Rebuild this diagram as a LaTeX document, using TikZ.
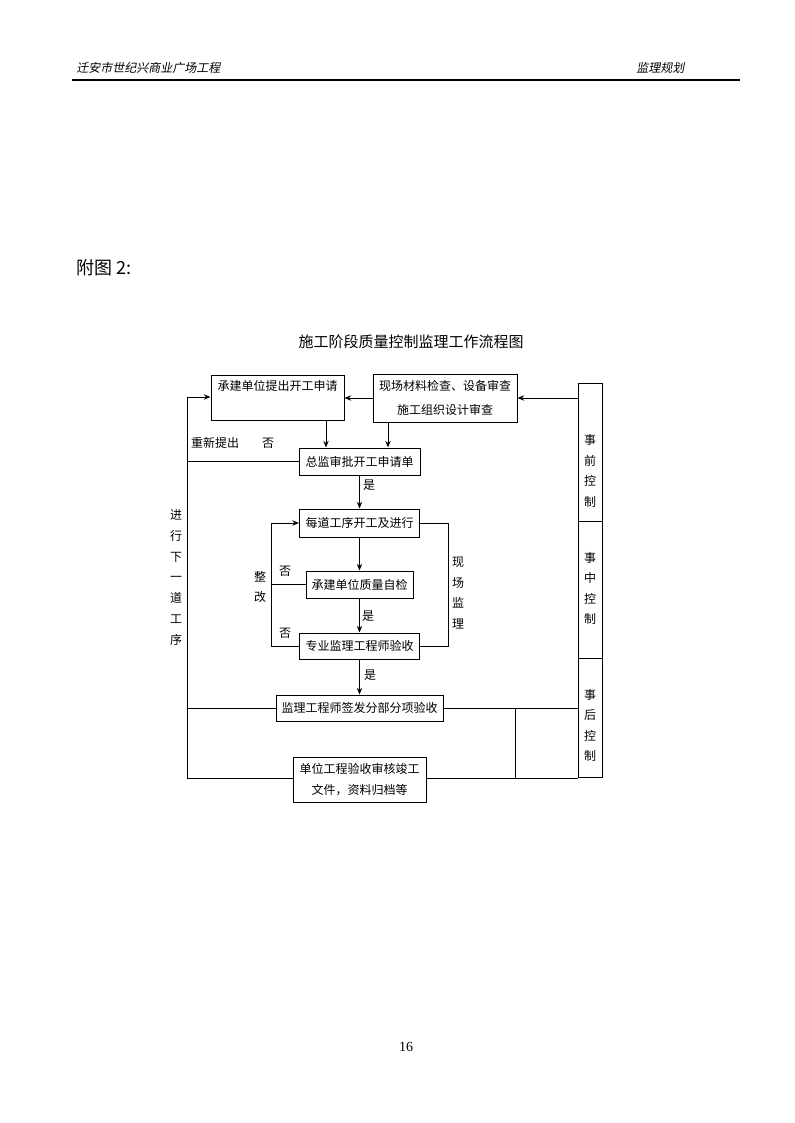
\documentclass[tikz,border=0pt]{standalone}
\usepackage{fontspec}
\setmainfont{Liberation Serif}
\newfontfamily\cjk{Noto Sans CJK SC}
\newfontfamily\cjkit[FakeSlant=0.2]{Noto Sans CJK SC}
\usetikzlibrary{arrows.meta}
\begin{document}
\begin{tikzpicture}[x=0.75pt,y=-0.75pt,
  box/.style={draw,line width=0.75pt,inner sep=0pt,align=center,font=\cjk\fontsize{9}{18}\selectfont},
  colbox/.style={draw,line width=0.75pt,inner sep=0pt,minimum width=24*0.75pt},
  lab/.style={inner sep=0pt,font=\cjk\fontsize{9}{11}\selectfont},
  vlab/.style={inner sep=0pt,align=center,font=\cjk\fontsize{9}{15.4}\selectfont},
  conn/.style={line width=0.75pt},
  arr/.style={line width=0.75pt,-{Stealth[length=5pt,width=4pt]}}]
\useasboundingbox (0,0) rectangle (794,1123);
% header
\node[anchor=west,inner sep=0pt,font=\cjkit\fontsize{9}{11}\selectfont] (hl) at (76,68) {迁安市世纪兴商业广场工程};
\node[anchor=west,inner sep=0pt,font=\cjkit\fontsize{9}{11}\selectfont] (hr) at (636,68) {监理规划};
\coordinate (hla) at (72,80);
\coordinate (hlb) at (740,80);
\draw[line width=1.1pt] (hla) -- (hlb);
\node[anchor=west,inner sep=0pt,font=\cjk\fontsize{13.5}{16}\selectfont] (fig) at (76,268) {附图 2:};
\node[inner sep=0pt,font=\cjk\fontsize{11.25}{14}\selectfont] (title) at (411,342) {施工阶段质量控制监理工作流程图};
% boxes
\node[box,minimum width=133*0.75pt,minimum height=45*0.75pt] (b1) at (277.5,397.5) {承建单位提出开工申请\\\mbox{}};
\node[box,minimum width=144*0.75pt,minimum height=48*0.75pt] (b2) at (445,398) {现场材料检查、设备审查\\施工组织设计审查};
\node[box,minimum width=121*0.75pt,minimum height=27*0.75pt] (b3) at (359.5,461.5) {总监审批开工申请单};
\node[box,minimum width=120*0.75pt,minimum height=28*0.75pt] (b4) at (359.5,523) {每道工序开工及进行};
\node[box,minimum width=107*0.75pt,minimum height=27*0.75pt] (b5) at (359.5,584.5) {承建单位质量自检};
\node[box,minimum width=120*0.75pt,minimum height=26*0.75pt] (b6) at (359.5,646) {专业监理工程师验收};
\node[box,minimum width=167*0.75pt,minimum height=26*0.75pt] (b7) at (359.5,708) {监理工程师签发分部分项验收};
\node[box,minimum width=133*0.75pt,minimum height=45*0.75pt,font=\cjk\fontsize{9}{15.75}\selectfont] (b8) at (359.5,779.5) {单位工程验收审核竣工\\文件，资料归档等};
% right column
\node[colbox,minimum height=138*0.75pt] (rc1) at (590,452) {};
\node[colbox,minimum height=137*0.75pt] (rc2) at (590,589.5) {};
\node[colbox,minimum height=119*0.75pt] (rc3) at (590,717.5) {};
\node[vlab] (t1) at (590,471) {事\\前\\控\\制};
\node[vlab] (t2) at (590,588.5) {事\\中\\控\\制};
\node[vlab] (t3) at (590,725.5) {事\\后\\控\\制};
% left line coordinates
\coordinate (L1) at (187,397);
\coordinate (L2) at (187,778);
% connectors
\draw[arr] (rc1.west |- b2.east) -- (b2.east);
\draw[arr] (b2.west) -- (b2.west -| b1.east);
\draw[arr] (L2) -- (L1) -- (L1 -| b1.west);
\draw[conn] (b3.west) -- (b3.west -| L1);
\draw[conn] (b7.west) -- (b7.west -| L1);
\draw[conn] (L2) -- (L2 -| b8.west);
\draw[arr] (b1.south -| 326,0) -- (b3.north -| 326,0);
\draw[arr] (b2.south -| 388,0) -- (b3.north -| 388,0);
\draw[arr] (b3.south) -- (b4.north);
\draw[arr] (b4.south) -- (b5.north);
\draw[arr] (b5.south) -- (b6.north);
\draw[arr] (b6.south) -- (b7.north);
\draw[arr] (b6.west) -- (b6.west -| 271,0) -- (b4.west -| 271,0) -- (b4.west);
\draw[conn] (b5.west) -- (b5.west -| 271,0);
\draw[conn] (b4.east) -- (b4.east -| 448,0) -- (b6.east -| 448,0) -- (b6.east);
\draw[conn] (b7.east) -- (b7.east -| rc3.west);
\draw[conn] (b8.east |- L2) -- (L2 -| rc3.west);
\draw[conn] (b7.east -| 515,0) -- (L2 -| 515,0);
% labels
\node[lab] (s1) at (369,485) {是};
\node[lab] (s2) at (368,616) {是};
\node[lab] (s3) at (370,675) {是};
\node[lab] (n1) at (268,443) {否};
\node[lab] (n2) at (285,571) {否};
\node[lab] (n3) at (285,633) {否};
\node[lab] (re) at (215,443) {重新提出};
\node[vlab,font=\cjk\fontsize{9}{15}\selectfont] (zg) at (260,587) {整\\改};
\node[vlab] (xc) at (458,593) {现\\场\\监\\理};
\node[vlab,font=\cjk\fontsize{9}{15.6}\selectfont] (jx) at (176,577.5) {进\\行\\下\\一\\道\\工\\序};
% page number
\node[inner sep=0pt,font=\fontsize{10.5}{12}\selectfont] (pg) at (406,1047) {16};
\end{tikzpicture}
\end{document}
